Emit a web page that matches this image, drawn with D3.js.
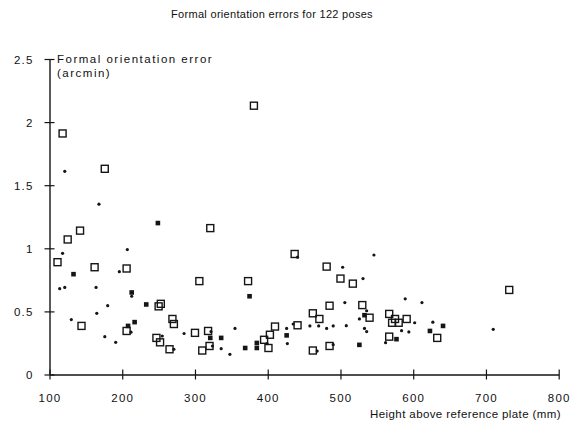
<!DOCTYPE html>
<html><head><meta charset="utf-8">
<script src="https://cdn.jsdelivr.net/npm/d3@7"></script>
<style>body{margin:0;background:#fff}svg{display:block}text{font-family:"Liberation Sans",Arial,sans-serif;fill:#111}</style>
</head><body>
<script>
const title = "Formal orientation errors for 122 poses";
const yLabel1 = "Formal orientation error";
const yLabel2 = "(arcmin)";
const xLabel = "Height above reference plate (mm)";
const xTicks = [100,200,300,400,500,600,700,800];
const yTicks = [0,0.5,1,1.5,2,2.5];
const yTickLabels = ["0","0.5","1","1.5","2","2.5"];

const openSquares = [[381,2.13],[118,1.91],[176,1.63],[321,1.16],[142,1.14],[125,1.07],[111,0.89],[162,0.85],[206,0.84],[437,0.955],[481,0.855],[500,0.76],[517,0.72],[306,0.74],[373,0.74],[732,0.67],[253,0.56],[250,0.54],[485,0.545],[530,0.55],[144,0.385],[269,0.44],[271,0.40],[206,0.345],[247,0.29],[252,0.255],[300,0.33],[265,0.20],[318,0.345],[410,0.38],[403,0.315],[395,0.275],[401,0.21],[310,0.19],[320,0.226],[441,0.39],[462,0.485],[471,0.44],[485,0.226],[462,0.19],[540,0.45],[567,0.48],[575,0.44],[571,0.41],[580,0.41],[591,0.44],[633,0.29],[567,0.30]];
const filledSquares = [[249,1.20],[133,0.795],[213,0.65],[233,0.555],[375,0.62],[217,0.415],[208,0.385],[321,0.29],[336,0.29],[385,0.25],[385,0.21],[369,0.21],[426,0.31],[533,0.47],[641,0.385],[623,0.345],[577,0.28],[526,0.235]];
const dots = [[121,1.61],[168,1.35],[118,0.96],[207,0.99],[196,0.815],[114,0.68],[121,0.69],[164,0.69],[213,0.62],[180,0.545],[165,0.485],[130,0.435],[212,0.335],[176,0.30],[191,0.255],[255,0.305],[285,0.325],[271,0.20],[322,0.34],[355,0.365],[324,0.226],[336,0.205],[348,0.16],[399,0.245],[426,0.365],[427,0.245],[435,0.40],[458,0.385],[470,0.385],[481,0.365],[490,0.385],[490,0.236],[468,0.186],[441,0.93],[546,0.947],[503,0.85],[531,0.76],[506,0.57],[589,0.60],[612,0.57],[536,0.505],[526,0.44],[602,0.41],[627,0.415],[508,0.387],[533,0.365],[536,0.34],[584,0.347],[594,0.337],[562,0.252],[710,0.358]];

const W = 581, H = 421;
const svg = d3.select("body").append("svg").attr("width", W).attr("height", H);
const x = d3.scaleLinear().domain([100,800]).range([49.5,558.7]);
const y = d3.scaleLinear().domain([0,2.5]).range([374.5,59]);
const ink = "#151515";

svg.append("text").attr("x", 272).attr("y", 17.5).attr("text-anchor","middle")
  .style("font-size","11px").style("letter-spacing","0.3px").text(title);

// axes
const xa = svg.append("g").attr("transform",`translate(0,${y(0)})`)
  .call(d3.axisBottom(x).tickValues(xTicks).tickSize(0).tickFormat(d3.format("d")));
xa.select(".domain").attr("stroke", ink).attr("stroke-width",1.4);
xa.selectAll(".tick line").remove();
xa.selectAll(".tick text").attr("dy",0).attr("y",27).style("font-size","11.5px").style("letter-spacing","1.2px").style("font-family","'Liberation Sans',Arial,sans-serif").attr("fill",ink);
xa.selectAll(".tick").append("line").attr("y1",-5).attr("y2",5).attr("stroke",ink).attr("stroke-width",1.2);

const ya = svg.append("g").attr("transform",`translate(${x(100)},0)`)
  .call(d3.axisLeft(y).tickValues(yTicks).tickSize(0).tickFormat((d,i)=>yTickLabels[i]));
ya.select(".domain").attr("stroke", ink).attr("stroke-width",1.4);
ya.selectAll(".tick line").remove();
ya.selectAll(".tick text").attr("x",-16).attr("dy","0.35em").style("font-size","11.5px").style("letter-spacing","1.2px").style("font-family","'Liberation Sans',Arial,sans-serif").attr("fill",ink);
ya.selectAll(".tick").append("line").attr("x1",-5).attr("x2",5).attr("stroke",ink).attr("stroke-width",1.2);

svg.append("text").attr("x",57).attr("y",63).style("font-size","11.5px").style("letter-spacing","1.5px").text(yLabel1);
svg.append("text").attr("x",57).attr("y",77).style("font-size","11.5px").style("letter-spacing","1.5px").text(yLabel2);
svg.append("text").attr("x",561).attr("y",418).attr("text-anchor","end").style("font-size","11.5px").style("letter-spacing","0.4px").text(xLabel);

// marks
const g = svg.append("g");
g.selectAll("rect.open").data(openSquares).join("rect").attr("class","open")
  .attr("x",d=>x(d[0])-3.5).attr("y",d=>y(d[1])-3.5).attr("width",7).attr("height",7)
  .attr("fill","none").attr("stroke",ink).attr("stroke-width",1.4);
g.selectAll("rect.filled").data(filledSquares).join("rect").attr("class","filled")
  .attr("x",d=>x(d[0])-2.3).attr("y",d=>y(d[1])-2.3).attr("width",4.6).attr("height",4.6)
  .attr("fill",ink);
g.selectAll("circle.dot").data(dots).join("circle").attr("class","dot")
  .attr("cx",d=>x(d[0])).attr("cy",d=>y(d[1])).attr("r",1.6).attr("fill",ink);
</script>
</body></html>
